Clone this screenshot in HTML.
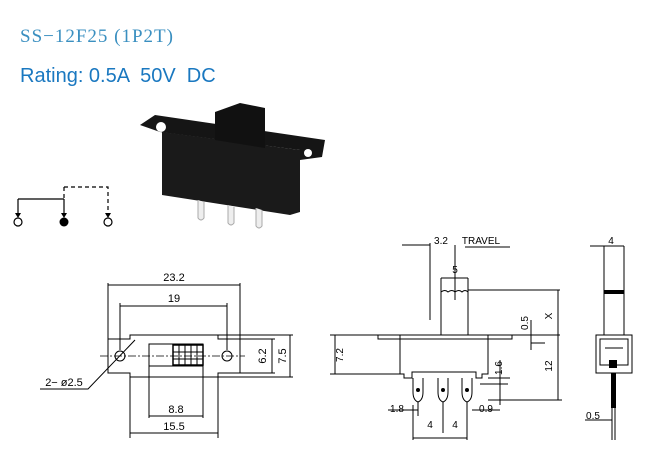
<!DOCTYPE html>
<html><head><style>body{margin:0;background:#fff}svg{display:block}</style></head><body>
<svg width="660" height="460" viewBox="0 0 660 460" xmlns="http://www.w3.org/2000/svg" font-family="Liberation Sans, sans-serif">
<text x="20" y="42" font-family="Liberation Serif, serif" font-size="19" fill="#3a8fc0" letter-spacing="1">SS−12F25 (1P2T)</text>
<text x="20" y="82" font-size="20" fill="#1a78c0" style="white-space:pre">Rating: 0.5A  50V  DC</text>
<!-- photo -->
<polygon points="140,125 155,115 325,140 322,157 300,160 300,150 160,132" fill="#151515"/>
<circle cx="161" cy="127" r="5" fill="#fff"/><circle cx="308" cy="153" r="4" fill="#fff"/>
<polygon points="162,132 300,150 300,212 290,215 162,195" fill="#1a1a1a"/>
<polygon points="215,112 240,103 265,108 265,148 215,140" fill="#111"/>
<path d="M198,200 v18 q3,4 6,0 v-16 M228,205 v18 q3,4 6,0 v-16 M256,208 v18 q3,4 6,0 v-16" stroke="#aaa" fill="#eee"/>
<!-- schematic -->
<g stroke="#000" stroke-width="1.2" fill="none">
<path d="M18,199 H64 M18,199 V214 M64,199 V214"/>
<path d="M64,187 H108 V214 M64,187 V199" stroke-dasharray="4,3"/>
<circle cx="18" cy="222" r="4"/><circle cx="108" cy="222" r="4"/>
</g>
<circle cx="64" cy="222" r="4.5" fill="#000"/>
<path d="M15,213 l3,5 3,-5z M61,213 l3,5 3,-5z M105,213 l3,5 3,-5z"/>
<!-- front view -->
<g stroke="#000" stroke-width="1" fill="none">
<path d="M108,339 H130 V335 H218 V339 H240 V373 H218 V377 H130 V373 H108Z"/>
<circle cx="120" cy="356" r="5"/><circle cx="227" cy="356" r="5"/>
<rect x="149" y="344" width="54" height="22"/>
<rect x="173" y="345" width="30" height="20" stroke-width="1.5"/>
<path d="M179,345v20M185,345v20M191,345v20M197,345v20M173,352h30M173,359h30"/>
<path d="M100,356 H245" stroke-dasharray="8,2,2,2" stroke-width="0.8"/>
<path d="M108,283V340M240,283V340M108,285H240M120,303V350M227,303V350M120,306H227"/>
<path d="M240,339H275M240,373H275M218,335H293M218,377H293M272,339V373M290,335V377"/>
<path d="M149,366V418M203,366V418M149,416H203M130,377V438M218,377V438M130,433H218"/>
<path d="M40,389H88L135,340"/>
</g>
<g font-size="11" text-anchor="middle" fill="#000">
<text x="174" y="281">23.2</text><text x="174" y="302">19</text>
<text x="176" y="413">8.8</text><text x="174" y="430">15.5</text>
<text x="266" y="356" transform="rotate(-90 266 356)">6.2</text>
<text x="286" y="356" transform="rotate(-90 286 356)">7.5</text>
<text x="64" y="386" text-anchor="middle">2− ø2.5</text>
</g>
<!-- side view -->
<g stroke="#000" stroke-width="1" fill="none">
<path d="M441,335V292 q4,-3 7,0 q4,-3 7,0 q4,-3 7,0 q3,-3 6,0 V335"/>
<path d="M378,335H400V374H404V378H412V372H476V378H482V374H488V335H512V339H378Z"/>
<path d="M378,339H512M400,335H488"/>
<path d="M413,378V392q0,8 5,10q5,-2 5,-10V378M438,378V392q0,8 5,10q5,-2 5,-10V378M462,378V392q0,8 5,10q5,-2 5,-10V378"/>
<path d="M418,402V416M443,402V433M467,402V416"/>
<path d="M402,245H430M430,243V320M455,245V300M455,245V250M465,247H510M441,278V292M468,278V292M441,278H468"/>
<path d="M468,290H560M558,290V400M488,335H560M488,400H562M488,378H510M500,360V405M480,384H508"/>
<path d="M531,320V350M531,343H545M330,335H378M330,374H400M335,335V374"/>
<path d="M388,410H418M472,410H500M413,405V440M467,405V440M413,438H467"/>
</g>
<circle cx="418" cy="390" r="2" fill="#000"/><circle cx="443" cy="390" r="2" fill="#000"/><circle cx="467" cy="390" r="2" fill="#000"/>
<g font-size="10" text-anchor="middle" fill="#000">
<text x="441" y="244">3.2</text><text x="481" y="244">TRAVEL</text>
<text x="455" y="273">5</text>
<text x="397" y="412">1.8</text><text x="486" y="412">0.9</text>
<text x="430" y="428">4</text><text x="455" y="428">4</text>
<text x="552" y="316" transform="rotate(-90 552 316)">X</text>
<text x="552" y="366" transform="rotate(-90 552 366)">12</text>
<text x="528" y="323" transform="rotate(-90 528 323)">0.5</text>
<text x="502" y="368" transform="rotate(-90 502 368)">1.6</text>
<text x="343" y="355" transform="rotate(-90 343 355)">7.2</text>
</g>
<!-- right view -->
<g stroke="#000" stroke-width="1" fill="none">
<path d="M590,246H624M604,246V292M624,246V292"/>
<rect x="604" y="292" width="20" height="43"/>
<path d="M596,335H632V373H596Z M600,339H628V365H600Z M605,348H623"/>
<path d="M612,373V440M615,373V440M585,420H612"/>
</g>
<rect x="604" y="290" width="20" height="4" fill="#000"/>
<rect x="609" y="360" width="8" height="8" fill="#000"/>
<rect x="611" y="373" width="5" height="35" fill="#000"/>
<text x="611" y="244" font-size="10" text-anchor="middle">4</text>
<text x="593" y="419" font-size="10" text-anchor="middle">0.5</text>
</svg>
</body></html>
